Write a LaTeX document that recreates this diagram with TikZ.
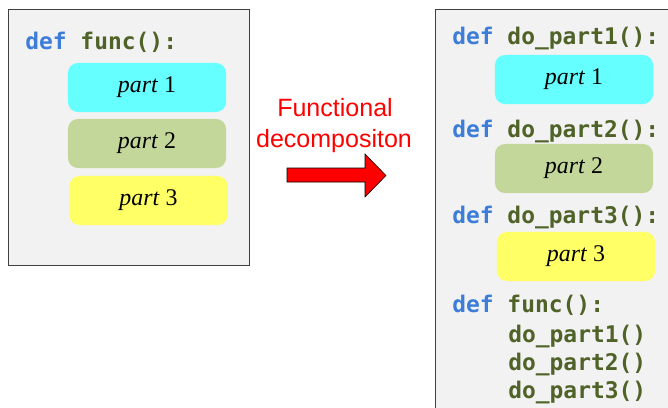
\documentclass[tikz,border=0pt]{standalone}
\usepackage{fontspec}
\newfontfamily\codefont{DejaVu Sans Mono}
\newfontfamily\partfont{Liberation Serif}
\newfontfamily\labelfont{Liberation Sans}
\definecolor{kwblue}{HTML}{3C7DD9}
\definecolor{fngreen}{HTML}{4F6228}
\definecolor{boxgray}{HTML}{F2F2F2}
\definecolor{partcyan}{HTML}{66FFFF}
\definecolor{partgreen}{HTML}{C4D79B}
\definecolor{partyellow}{HTML}{FFFF66}
\newcommand{\kw}[1]{\textcolor{kwblue}{#1}}

\begin{document}
\begin{tikzpicture}[x=0.025cm, y=-0.025cm,
  code/.style={anchor=base west, inner sep=0pt, text=fngreen,
    font=\codefont\bfseries\fontsize{16.3}{18}\selectfont},
  part/.style={rounded corners=7pt, minimum width=3.95cm, minimum height=1.225cm,
    font=\partfont\fontsize{17}{20}\selectfont},
  panel/.style={draw=black!75, fill=boxgray, line width=0.6pt}]
  \clip (0,0) rectangle (668,407);
  \useasboundingbox (0,0) rectangle (668,407);
  % original function
  \draw[panel] (8,9) rectangle (249,265);
  \node[code] (fdef) at (25,50) {\kw{def} func():};
  \node[part, fill=partcyan] (p1) at (147,87.5) {\textit{part} 1};
  \node[part, fill=partgreen] (p2) at (147,143.5) {\textit{part} 2};
  \node[part, fill=partyellow] (p3) at (148.5,200.5) {\textit{part} 3};
  % label and arrow
  \node[anchor=base, text=red, font=\labelfont\fontsize{17.8}{22}\selectfont] (lab1) at (335,116) {Functional};
  \node[anchor=base, text=red, font=\labelfont\fontsize{17.8}{22}\selectfont] (lab2) at (334,147) {decompositon};
  \draw[fill=red, draw=black, line width=0.4pt] (287,168) -- (365,168) -- (365,154) -- (386,175.5)
    -- (365,197) -- (365,182) -- (287,182) -- cycle;
  % decomposed functions
  \draw[panel] (435,9) rectangle (720,460);
  \node[code] (d1) at (452,45) {\kw{def} do\_part1():};
  \node[part, fill=partcyan] (q1) at (574,79.5) {\textit{part} 1};
  \node[code] (d2) at (452,137) {\kw{def} do\_part2():};
  \node[part, fill=partgreen] (q2) at (574,168.5) {\textit{part} 2};
  \node[code] (d3) at (452,223) {\kw{def} do\_part3():};
  \node[part, fill=partyellow] (q3) at (576,256.5) {\textit{part} 3};
  \node[code] (d4) at (452,312) {\kw{def} func():};
  \node[code] (c1) at (508,342) {do\_part1()};
  \node[code] (c2) at (508,370) {do\_part2()};
  \node[code] (c3) at (508,398) {do\_part3()};
\end{tikzpicture}
\end{document}
